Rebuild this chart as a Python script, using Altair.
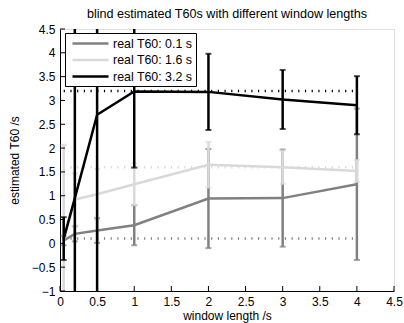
import altair as alt
import pandas as pd

# ---- data ----
window = [0.05, 0.2, 0.5, 1, 2, 3, 4]
series_names = ["real T60: 0.1 s", "real T60: 1.6 s", "real T60: 3.2 s"]
real_t60 = [0.1, 1.6, 3.2]

mean_01 = [0.06, 0.20, 0.27, 0.38, 0.94, 0.95, 1.24]
half_01 = [0.10, 0.16, 0.26, 0.42, 1.04, 1.02, 1.59]

mean_16 = [0.07, 0.92, 1.03, 1.24, 1.65, 1.60, 1.52]
half_16 = [2.00, 0.55, 0.53, 0.44, 0.48, 0.35, 0.23]

mean_32 = [0.10, 0.95, 2.70, 3.19, 3.18, 3.02, 2.90]
half_32 = [0.45, 4.50, 4.00, 1.60, 0.80, 0.62, 0.61]

x_ticks = [0, 0.5, 1, 1.5, 2, 2.5, 3, 3.5, 4, 4.5]
y_ticks = [-1, -0.5, 0, 0.5, 1, 1.5, 2, 2.5, 3, 3.5, 4, 4.5]

colors = ["#808080", "#d9d9d9", "#000000"]

means = [mean_01, mean_16, mean_32]
halfs = [half_01, half_16, half_32]

rows = []
for name, m, h in zip(series_names, means, halfs):
    for xv, mv, hv in zip(window, m, h):
        rows.append({"series": name, "x": xv, "mean": mv, "lo": mv - hv, "hi": mv + hv})
df = pd.DataFrame(rows)

ref_df = pd.DataFrame({"series": series_names, "y": real_t60,
                       "x0": [window[0]] * 3, "x1": [window[-1]] * 3})
xt_df = pd.DataFrame({"t": x_ticks})
yt_df = pd.DataFrame({"t": y_ticks})

FONT = "Liberation Sans"
FS = 12
xscale = alt.Scale(domain=[0, 4.5], nice=False, zero=False)
yscale = alt.Scale(domain=[-1, 4.5], nice=False, zero=False)
xaxis = alt.Axis(values=x_ticks, format="~g", title="window length /s", tickSize=0,
                 labelPadding=5, titlePadding=3, grid=False, domainColor="black",
                 labelColor="black", titleColor="black", labelFontSize=FS,
                 titleFontSize=FS, titleFontWeight="normal", labelFont=FONT,
                 titleFont=FONT, labelFlush=False, labelOverlap=False)
yaxis = alt.Axis(values=y_ticks, format="~g", title="estimated T60 /s", tickSize=0,
                 labelPadding=5, titlePadding=10, grid=False, domainColor="black",
                 labelColor="black", titleColor="black", labelFontSize=FS,
                 titleFontSize=FS, titleFontWeight="normal", labelFont=FONT,
                 titleFont=FONT, labelFlush=False, labelOverlap=False)
cscale = alt.Scale(domain=series_names, range=colors)
legend = alt.Legend(title=None, orient="none", legendX=5, legendY=4,
                    symbolType="M-0.5,0H5.5", symbolSize=144, symbolStrokeWidth=2.5,
                    labelFontSize=12.4, labelFont=FONT, labelColor="black",
                    fillColor="white", strokeColor="black", padding=3,
                    labelOffset=30, rowPadding=2.5)

base = alt.Chart(df)

# dotted reference lines
ref = alt.Chart(ref_df).mark_rule(strokeDash=[1.2, 5.5], strokeWidth=2.5, clip=True).encode(
    x=alt.X("x0:Q", scale=xscale, axis=xaxis),
    x2="x1:Q",
    y=alt.Y("y:Q", scale=yscale, axis=yaxis),
    color=alt.Color("series:N", scale=cscale, legend=legend),
)

layers = [ref]
for name, col in zip(series_names, colors):
    sub = base.transform_filter(alt.datum.series == name)
    line = sub.mark_line(strokeWidth=2.5, clip=True).encode(
        x=alt.X("x:Q", scale=xscale, axis=xaxis),
        y=alt.Y("mean:Q", scale=yscale, axis=yaxis),
        color=alt.Color("series:N", scale=cscale, legend=legend),
    )
    bar = sub.mark_rule(strokeWidth=2.5, clip=True, color=col).encode(
        x=alt.X("x:Q", scale=xscale, axis=xaxis),
        y=alt.Y("lo:Q", scale=yscale, axis=yaxis),
        y2="hi:Q",
    )
    caps = sub.transform_fold(["lo", "hi"], as_=["end", "val"]).mark_tick(
        orient="horizontal", size=6, thickness=2, clip=True, color=col
    ).encode(
        x=alt.X("x:Q", scale=xscale, axis=xaxis),
        y=alt.Y("val:Q", scale=yscale, axis=yaxis),
    )
    layers += [line, bar, caps]

# inward ticks (MATLAB style)
xt = alt.Chart(xt_df).mark_rule(color="black", strokeWidth=1).encode(
    x=alt.X("t:Q", scale=xscale, axis=xaxis),
    y=alt.value(262), y2=alt.value(257),
)
yt = alt.Chart(yt_df).mark_rule(color="black", strokeWidth=1).encode(
    y=alt.Y("t:Q", scale=yscale, axis=yaxis),
    x=alt.value(0), x2=alt.value(5),
)
layers += [xt, yt]

chart = alt.layer(*layers).properties(
    width=334, height=262,
    title=alt.Title("blind estimated T60s with different window lengths", fontSize=12.6,
                    fontWeight="normal", font=FONT, color="black", anchor="middle",
                    frame="group", offset=2),
    padding={"left": 60, "top": 29, "right": 10, "bottom": 32},
    autosize=alt.AutoSizeParams(type="none"),
).configure_view(stroke=None).configure(background="white")

chart.save("out.html", embed_options={"renderer": "svg", "actions": False})
